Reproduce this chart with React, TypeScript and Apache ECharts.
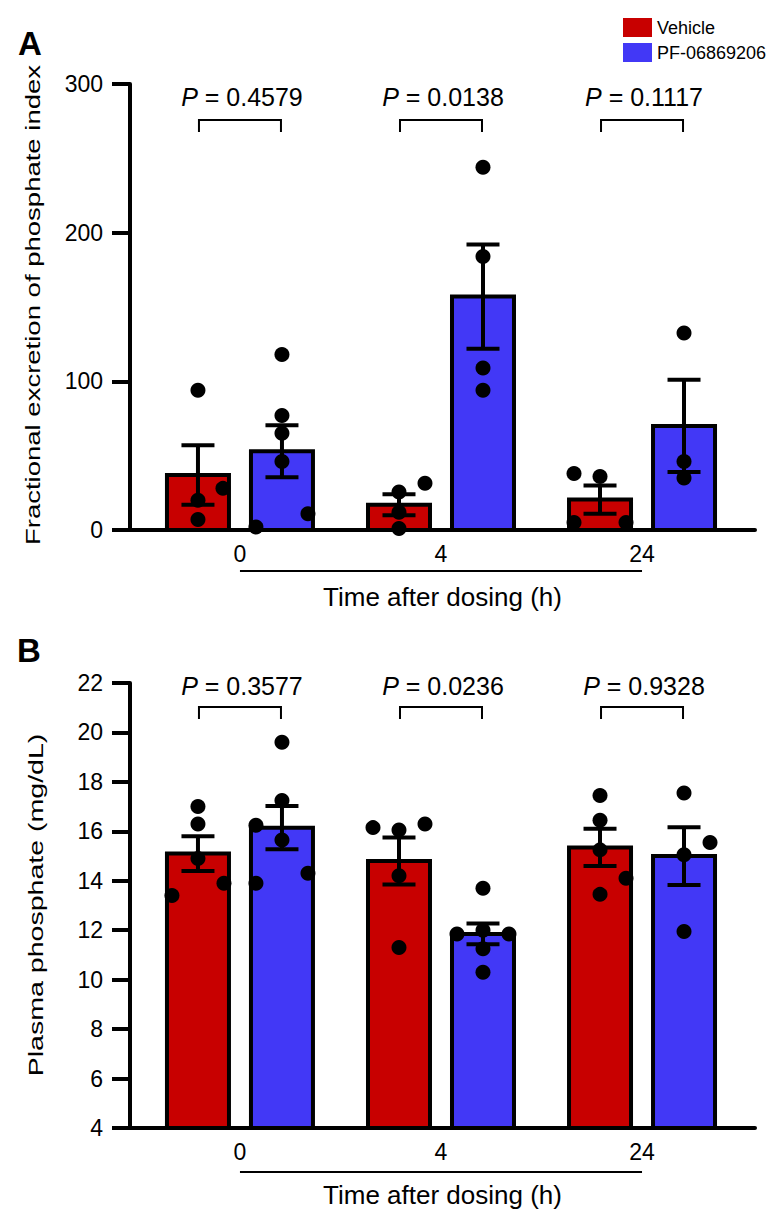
import React, { useEffect, useRef } from 'react';
import * as echarts from 'echarts';

const FONT = '"Liberation Sans", Arial, Helvetica, sans-serif';
const RED = '#C80000';
const BLUE = '#4238F6';

const timeLabels = ['0', '4', '24'];
const seriesNames = ['Vehicle', 'PF-06869206'];

// Panel A: fractional excretion of phosphate index
const feVehicleMean = [37, 17, 20.5];
const feVehicleSem = [20, 7, 9.5];
const fePfMean = [53, 157, 70];
const fePfSem = [17.5, 35, 31];
const feVehicleDots = [[94, 28, 20, 7], [25.5, 31.5, 12, 1], [38, 36, 5, 5]];
const feVehicleJitter = [[0, 25, 0, 0], [0, 26, 0, 0], [-26, 0, -26, 26]];
const fePfDots = [[118, 77, 65, 46, 11, 2], [244, 184, 109, 94], [132.5, 46, 35]];
const fePfJitter = [[0, 0, 0, 0, 26, -26], [0, 0, 0, 0], [0, 0, 0]];
const feP = ['0.4579', '0.0138', '0.1117'];

// Panel B: plasma phosphate (mg/dL)
const ppVehicleMean = [15.1, 14.8, 15.35];
const ppVehicleSem = [0.7, 0.95, 0.75];
const ppPfMean = [16.15, 11.85, 15.0];
const ppPfSem = [0.87, 0.42, 1.17];
const ppVehicleDots = [[17.0, 16.3, 14.9, 13.9, 13.4], [16.15, 16.05, 16.3, 14.2, 11.3], [17.45, 16.45, 15.25, 14.1, 13.45]];
const ppVehicleJitter = [[0, 0, 0, 26, -26], [-26, 0, 26, 0, 0], [0, 0, 0, 26, 0]];
const ppPfDots = [[19.6, 17.25, 16.25, 15.65, 14.3, 13.9], [13.7, 11.85, 12.0, 11.85, 11.25, 10.3], [17.55, 15.55, 15.05, 11.95]];
const ppPfJitter = [[0, 0, -26, 0, 26, -26], [0, -26, 0, 26, 0, 0], [0, 26, 0, 0]];
const ppP = ['0.3577', '0.0236', '0.9328'];

const BAR_OFFSET = 42;

function barData(mean: number[], sem: number[]) {
  return mean.map((m, i) => [i, m, sem[i]]);
}
function dotData(dots: number[][], jitter: number[][]) {
  const out: number[][] = [];
  dots.forEach((arr, i) => arr.forEach((v, k) => out.push([i, v, jitter[i][k]])));
  return out;
}

function barRender(offset: number, color: string, yMin: number) {
  return (params: any, api: any) => {
    const g = api.value(0);
    const mean = api.value(1);
    const sem = api.value(2);
    const top = api.coord([g, mean]);
    const base = api.coord([g, yMin]);
    const cx = top[0] + offset;
    const eTop = api.coord([g, mean + sem])[1];
    const eBot = api.coord([g, mean - sem])[1];
    const cap = 16.5;
    return {
      type: 'group',
      children: [
        {
          type: 'rect',
          shape: { x: cx - 31, y: top[1], width: 62, height: base[1] - top[1] },
          style: { fill: color, stroke: '#000', lineWidth: 4 },
        },
        { type: 'line', shape: { x1: cx, y1: eTop, x2: cx, y2: eBot }, style: { stroke: '#000', lineWidth: 4 } },
        { type: 'line', shape: { x1: cx - cap, y1: eTop, x2: cx + cap, y2: eTop }, style: { stroke: '#000', lineWidth: 4 } },
        { type: 'line', shape: { x1: cx - cap, y1: eBot, x2: cx + cap, y2: eBot }, style: { stroke: '#000', lineWidth: 4 } },
      ],
    };
  };
}

function dotRender(offset: number) {
  return (params: any, api: any) => {
    const p = api.coord([api.value(0), api.value(1)]);
    return {
      type: 'circle',
      shape: { cx: p[0] + offset + api.value(2), cy: p[1], r: 7.5 },
      style: { fill: '#000' },
    };
  };
}

function sigRender(pv: string[], yMin: number, bracketTop: number, textY: number) {
  return (params: any, api: any) => {
    const g = api.value(0);
    const cs = params.coordSys;
    const x0 = api.coord([g, yMin])[0];
    const xl = x0 - 41;
    const xr = x0 + 41;
    const yt = cs.y + bracketTop;
    const yb = yt + 12;
    return {
      type: 'group',
      children: [
        {
          type: 'polyline',
          shape: { points: [[xl, yb], [xl, yt], [xr, yt], [xr, yb]] },
          style: { stroke: '#000', lineWidth: 2, fill: null },
        },
        {
          type: 'text',
          style: {
            text: '{i|P} = ' + pv[params.dataIndex],
            x: x0 + 2,
            y: cs.y + textY,
            align: 'center',
            verticalAlign: 'middle',
            fontSize: 25,
            fontFamily: FONT,
            fill: '#000',
            rich: { i: { fontStyle: 'italic', fontSize: 25, fontFamily: FONT, fill: '#000' } },
          },
        },
      ],
    };
  };
}

function underlineRender(yMin: number, gap: number) {
  return (params: any, api: any) => {
    const cs = params.coordSys;
    const x1 = api.coord([api.value(0), yMin])[0];
    const x2 = api.coord([api.value(2), yMin])[0];
    const y = cs.y + cs.height + gap;
    return { type: 'line', shape: { x1, y1: y, x2, y2: y }, style: { stroke: '#000', lineWidth: 2 } };
  };
}

function xAxisCfg(gridIndex: number) {
  return {
    type: 'value',
    gridIndex,
    min: -0.547,
    max: 2.562,
    splitLine: { show: false },
    axisTick: { show: false },
    axisLine: { show: true, onZero: false, lineStyle: { color: '#000', width: 4 } },
    axisLabel: {
      customValues: [0, 1, 2],
      formatter: (v: number) => timeLabels[Math.round(v)] ?? '',
      fontSize: 23,
      color: '#000',
      margin: 12,
      fontFamily: FONT,
    },
    name: 'Time after dosing (h)',
    nameLocation: 'middle',
    nameGap: 54,
    nameTextStyle: { fontSize: 26, color: '#000', fontFamily: FONT },
  };
}

function yAxisCfg(gridIndex: number, min: number, max: number, interval: number) {
  return {
    type: 'value',
    gridIndex,
    min,
    max,
    interval,
    splitLine: { show: false },
    axisLine: { show: true, onZero: false, lineStyle: { color: '#000', width: 4 } },
    axisTick: { show: true, length: 18, lineStyle: { color: '#000', width: 4 } },
    axisLabel: { fontSize: 23, color: '#000', margin: 27, fontFamily: FONT },
  };
}

export default function App() {
  const ref = useRef<HTMLDivElement>(null);
  useEffect(() => {
    if (!ref.current) return;
    const chart = echarts.init(ref.current, undefined, { renderer: 'svg' });
    const panels = [
      {
        vm: feVehicleMean, vs: feVehicleSem, pm: fePfMean, ps: fePfSem,
        vd: feVehicleDots, vj: feVehicleJitter, pd: fePfDots, pj: fePfJitter,
        p: feP, yMin: 0, bracketTop: 36, textY: 13, underGap: 41,
      },
      {
        vm: ppVehicleMean, vs: ppVehicleSem, pm: ppPfMean, ps: ppPfSem,
        vd: ppVehicleDots, vj: ppVehicleJitter, pd: ppPfDots, pj: ppPfJitter,
        p: ppP, yMin: 4, bracketTop: 24, textY: 3, underGap: 44,
      },
    ];
    const series: any[] = [];
    panels.forEach((pn, idx) => {
      const common = { xAxisIndex: idx, yAxisIndex: idx, encode: { x: 0, y: 1 }, clip: false };
      series.push({
        ...common, type: 'custom', name: seriesNames[0], itemStyle: { color: RED },
        renderItem: barRender(-BAR_OFFSET, RED, pn.yMin), data: barData(pn.vm, pn.vs), z: 2,
      });
      series.push({
        ...common, type: 'custom', name: seriesNames[1], itemStyle: { color: BLUE },
        renderItem: barRender(BAR_OFFSET, BLUE, pn.yMin), data: barData(pn.pm, pn.ps), z: 2,
      });
      series.push({
        ...common, type: 'custom', name: seriesNames[0] + ' points', silent: true,
        renderItem: dotRender(-BAR_OFFSET), data: dotData(pn.vd, pn.vj), z: 4,
      });
      series.push({
        ...common, type: 'custom', name: seriesNames[1] + ' points', silent: true,
        renderItem: dotRender(BAR_OFFSET), data: dotData(pn.pd, pn.pj), z: 4,
      });
      series.push({
        ...common, type: 'custom', name: 'sig' + idx, silent: true,
        renderItem: sigRender(pn.p, pn.yMin, pn.bracketTop, pn.textY),
        data: [0, 1, 2].map((g) => [g, pn.yMin]), z: 3,
      });
      series.push({
        ...common, type: 'custom', name: 'under' + idx, silent: true,
        renderItem: underlineRender(pn.yMin, pn.underGap),
        data: [[0, pn.yMin, 2]], z: 3,
      });
    });

    chart.setOption({
      animation: false,
      textStyle: { fontFamily: FONT, color: '#000' },
      legend: {
        orient: 'vertical',
        left: 618,
        top: 13,
        itemWidth: 29,
        itemHeight: 19,
        itemGap: 6,
        icon: 'rect',
        selectedMode: false,
        textStyle: { fontSize: 18, color: '#000', fontFamily: FONT },
        data: [
          { name: seriesNames[0], itemStyle: { color: RED, borderWidth: 0 } },
          { name: seriesNames[1], itemStyle: { color: BLUE, borderWidth: 0 } },
        ],
      },
      grid: [
        { left: 130, top: 84, width: 625, height: 446 },
        { left: 130, top: 683, width: 625, height: 445 },
      ],
      xAxis: [xAxisCfg(0), xAxisCfg(1)],
      yAxis: [yAxisCfg(0, 0, 300, 100), yAxisCfg(1, 4, 22, 2)],
      graphic: [
        {
          type: 'text', x: 30, y: 43,
          style: { text: 'A', fontSize: 33, fontWeight: 'bold', fontFamily: FONT, fill: '#000', align: 'center', verticalAlign: 'middle' },
        },
        {
          type: 'text', x: 29, y: 650,
          style: { text: 'B', fontSize: 33, fontWeight: 'bold', fontFamily: FONT, fill: '#000', align: 'center', verticalAlign: 'middle' },
        },
        {
          type: 'text', x: 33, y: 305, rotation: Math.PI / 2, scaleX: 1.31,
          style: { text: 'Fractional excretion of phosphate index', fontSize: 21, fontFamily: FONT, fill: '#000', align: 'center', verticalAlign: 'middle' },
        },
        {
          type: 'text', x: 35, y: 905, rotation: Math.PI / 2, scaleX: 1.36,
          style: { text: 'Plasma phosphate (mg/dL)', fontSize: 21, fontFamily: FONT, fill: '#000', align: 'center', verticalAlign: 'middle' },
        },
      ],
      series,
    });
    return () => chart.dispose();
  }, []);
  return (
    <div
      ref={ref}
      style={{ position: 'absolute', left: 0, top: 0, width: 773, height: 1227, background: '#fff' }}
    />
  );
}
